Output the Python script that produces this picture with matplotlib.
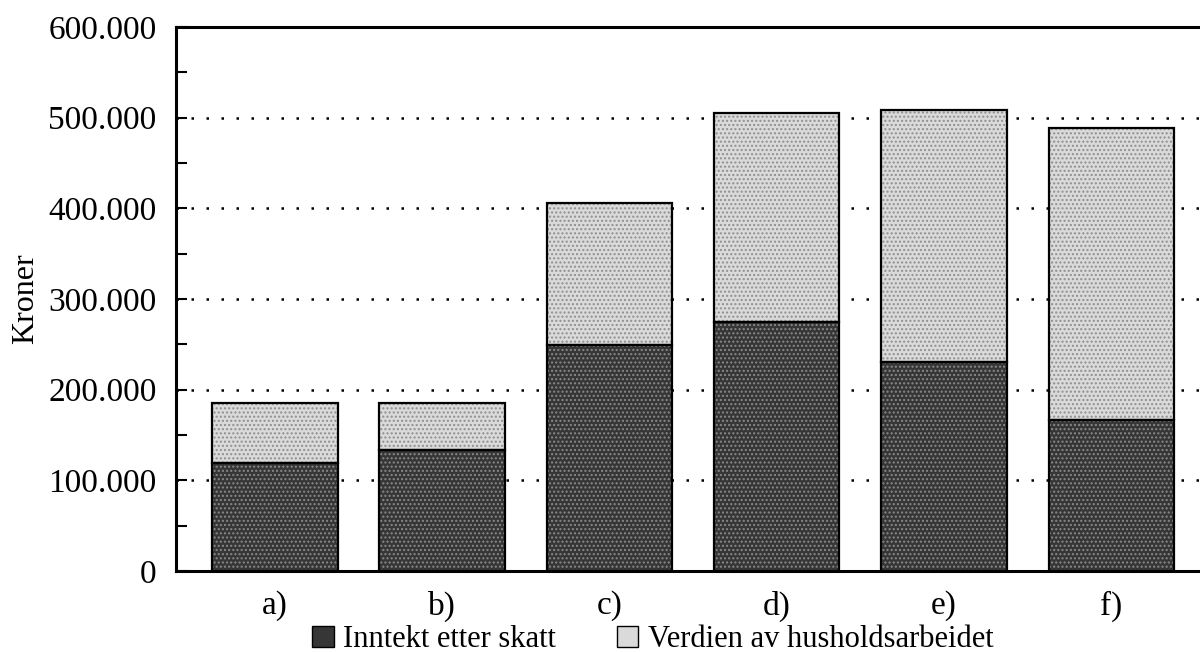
import matplotlib.pyplot as plt
import numpy as np
from matplotlib.patches import Patch
from matplotlib.ticker import FuncFormatter, MultipleLocator

categories = ['a)', 'b)', 'c)', 'd)', 'e)', 'f)']
inntekt = [119000, 134000, 249000, 275000, 231000, 167000]
husholdsarbeid = [66000, 51000, 157000, 230000, 277000, 322000]

plt.rcParams['font.family'] = ['Liberation Serif', 'DejaVu Serif']

dark = '#363636'
light = '#dadada'

fig = plt.figure(figsize=(12, 6.52), dpi=100)
ax = fig.add_axes([0.1467, 0.1242, 0.8617, 0.8344])

x = np.arange(len(categories))
w = 0.75
ax.bar(x, inntekt, w, color=dark, hatch='....', edgecolor='#8a8a8a', linewidth=0, zorder=2)
ax.bar(x, husholdsarbeid, w, bottom=inntekt, color=light, hatch='....', edgecolor='#8f8f8f',
       linewidth=0, zorder=2)
ax.bar(x, inntekt, w, fill=False, edgecolor='black', linewidth=1.6, zorder=3)
ax.bar(x, husholdsarbeid, w, bottom=inntekt, fill=False, edgecolor='black', linewidth=1.6, zorder=3)

ax.set_xlim(-0.59, 5.59)
ax.set_ylim(0, 600000)
ax.set_xticks(x)
ax.set_xticklabels(categories, fontsize=24)
ax.yaxis.set_major_locator(MultipleLocator(100000))
ax.yaxis.set_minor_locator(MultipleLocator(50000))
ax.yaxis.set_major_formatter(FuncFormatter(lambda v, p: f'{int(v):,}'.replace(',', '.')))
ax.tick_params(axis='y', which='both', direction='in', length=8, width=1.5, labelsize=24, pad=14)
ax.tick_params(axis='x', direction='in', length=6, width=1.5, pad=14)
ax.grid(axis='y', which='major', linestyle=(0, (1, 5)), color='black', linewidth=1.8, zorder=1)
ax.set_axisbelow(True)
for s in ['left', 'top', 'bottom']:
    ax.spines[s].set_linewidth(2.2)
ax.spines['right'].set_visible(False)
ax.set_ylabel('Kroner', fontsize=23, labelpad=6)

handles = [Patch(facecolor=dark, edgecolor='black', label='Inntekt etter skatt'),
           Patch(facecolor=light, edgecolor='black', label='Verdien av husholdsarbeidet')]
fig.legend(handles=handles, loc='center', bbox_to_anchor=(0.544, 0.019), ncol=2, frameon=False,
           fontsize=22, handlelength=0.7, handleheight=0.7, handletextpad=0.3, columnspacing=2.0)

fig.savefig('out.png', dpi=100)
